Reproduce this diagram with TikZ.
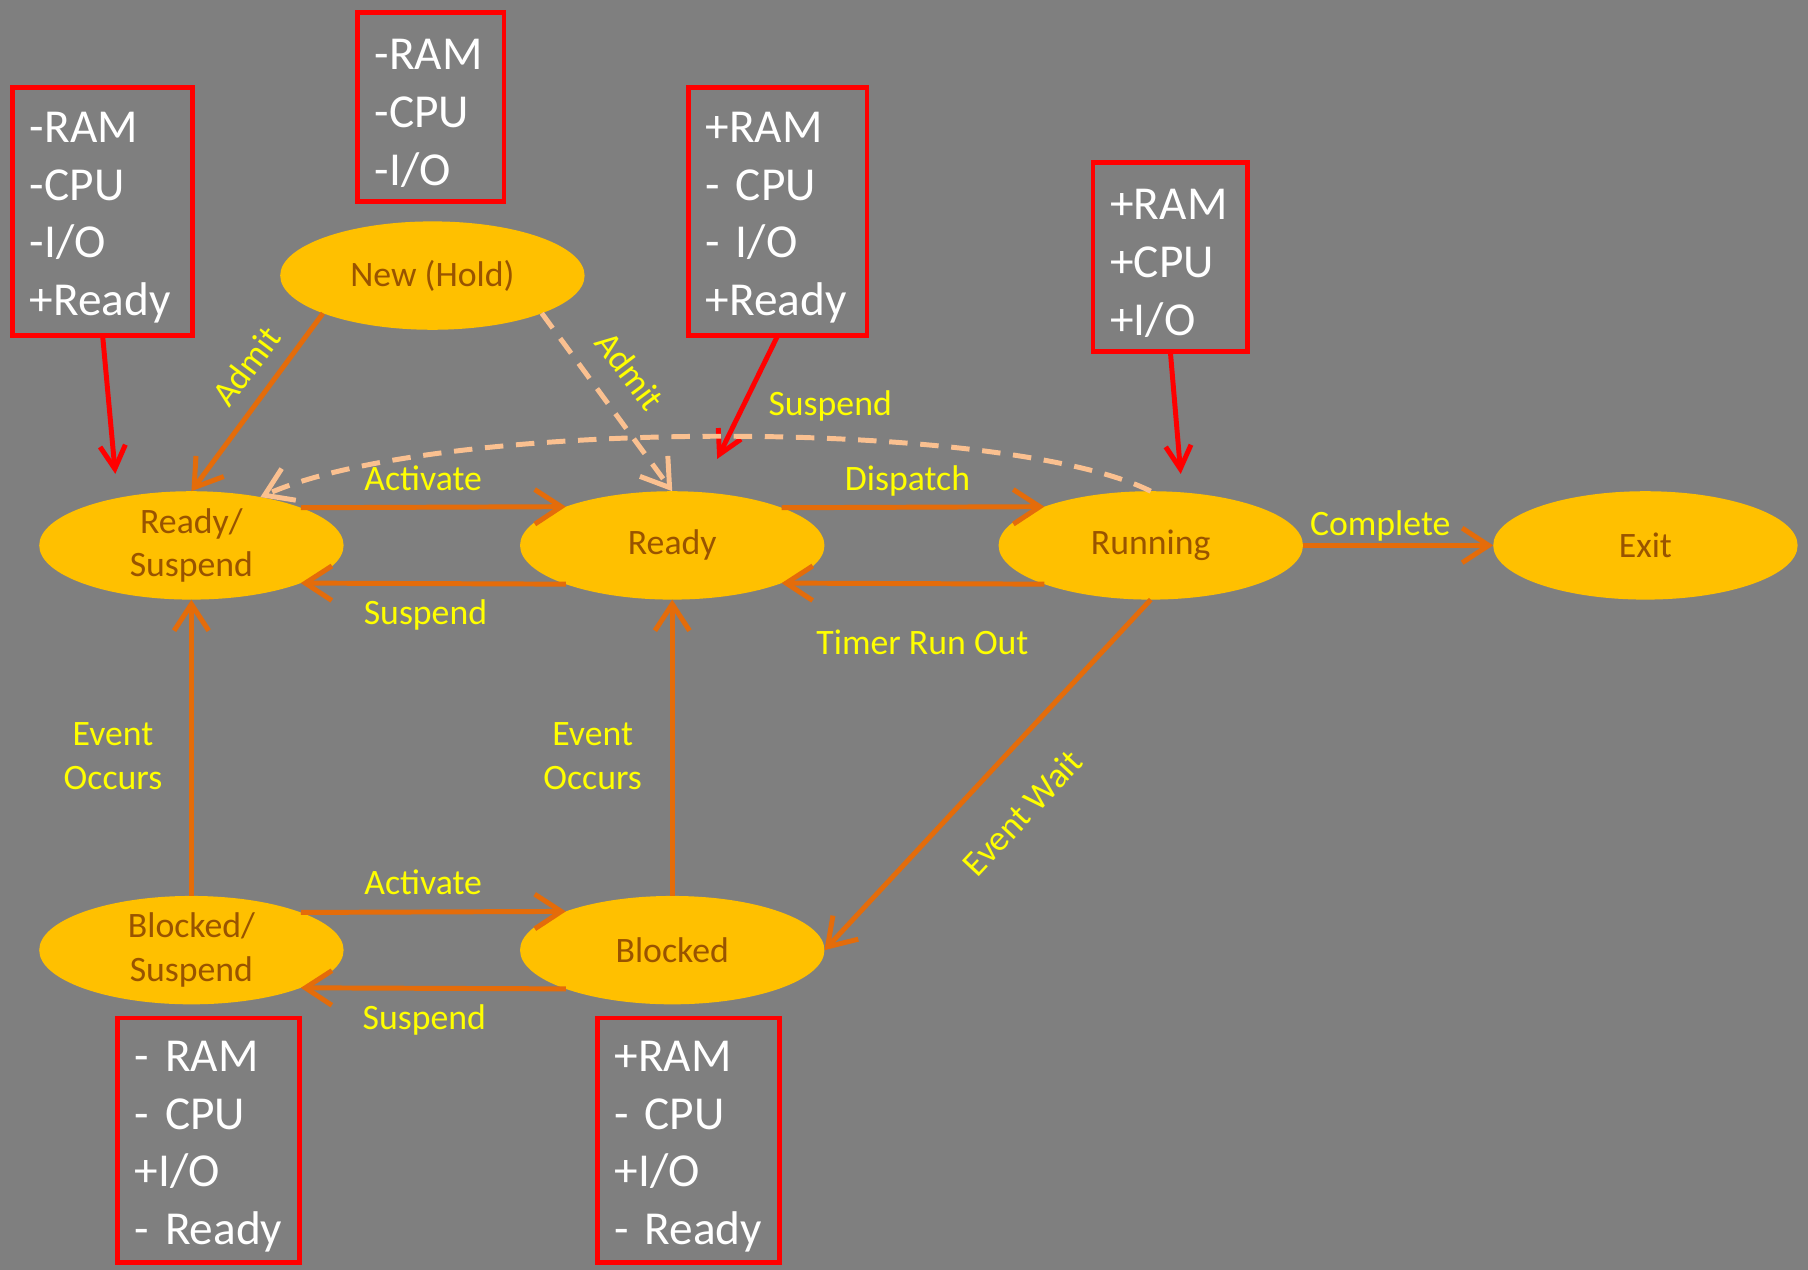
\documentclass[tikz,border=0pt]{standalone}
\usepackage{fontspec}
\setmainfont{Carlito}
\usetikzlibrary{arrows.meta,shapes.geometric}
\definecolor{bgc}{RGB}{127,127,127}
\definecolor{stfill}{RGB}{255,192,0}
\definecolor{sttext}{RGB}{153,84,0}
\definecolor{flowc}{RGB}{228,108,10}
\definecolor{peach}{RGB}{250,192,144}
\definecolor{lblc}{RGB}{255,255,0}
\definecolor{boxred}{RGB}{255,0,0}
\newcommand{\topstrut}{\rule{0pt}{37pt}}
\begin{document}
\begin{tikzpicture}[x=1pt,y=-1pt,
  state/.style={ellipse, fill=stfill, minimum width=264pt, minimum height=94pt,
    inner xsep=0pt, inner ysep=-4pt, outer sep=0pt, text=sttext,
    font=\fontsize{31}{38}\selectfont, align=center},
  infobox/.style={rectangle, draw=boxred, line width=4pt, text=white,
    font=\fontsize{41}{50}\selectfont, align=left, inner xsep=15pt, inner ysep=0pt, outer sep=0pt},
  lab/.style={text=lblc, font=\fontsize{31}{38}\selectfont, align=center, inner sep=0pt},
  lab1/.style={lab, text height=20pt, text depth=0pt},
  flow/.style={draw=flowc, line width=4.3pt, -{Straight Barb[length=23pt,width=30pt]}},
  dflow/.style={draw=peach, line width=4.3pt, dash pattern=on 16pt off 11pt, -{Straight Barb[length=23pt,width=30pt]}},
  ptr/.style={draw=boxred, line width=4.3pt, -{Straight Barb[length=20pt,width=22pt]}}
]
\fill[bgc] (0,0) rectangle (1568,1101);
\useasboundingbox (0,0) rectangle (1568,1101);

% states
\node[state] (new) at (375,239) {New (Hold)};
\node[state] (rs) at (166,473) {Ready/\\Suspend};
\node[state] (ready) at (583,473) {Ready};
\node[state] (run) at (998,473) {Running};
\node[state] (exit) at (1427,473) {Exit};
\node[state] (bs) at (166,824) {Blocked/\\Suspend};
\node[state] (blk) at (583,824) {Blocked};

% info boxes
\node[infobox, minimum width=156pt, minimum height=215pt, text width=126pt] (b1) at (89,183.5) {\topstrut-RAM\\-CPU\\-I/O\\+Ready};
\node[infobox, minimum width=127pt, minimum height=164pt, text width=97pt] (b2) at (373.5,93) {\topstrut-RAM\\-CPU\\-I/O};
\node[infobox, minimum width=155pt, minimum height=215pt, text width=125pt] (b3) at (674.5,183.5) {\topstrut+RAM\\- CPU\\- I/O\\+Ready};
\node[infobox, minimum width=134pt, minimum height=164pt, text width=104pt] (b4) at (1015,223) {\topstrut+RAM\\+CPU\\+I/O};
\node[infobox, minimum width=158pt, minimum height=212pt, text width=128pt] (b5) at (181,989) {\topstrut- RAM\\- CPU\\+I/O\\- Ready};
\node[infobox, minimum width=158pt, minimum height=212pt, text width=128pt] (b6) at (597,989) {\topstrut+RAM\\- CPU\\+I/O\\- Ready};

% pointer ends
\coordinate (p1) at (100,411);
\coordinate (p3) at (622,398);
\coordinate (p4) at (1024,411);
\draw[ptr] (b1.south) -- (p1);
\draw[ptr] (b3.south) -- (p3);
\draw[ptr] (b4.south) -- (p4);

% transitions
\draw[flow] (new.199.34) -- (rs.north);
\draw[dflow] (new.-19.34) -- (ready.north);
\draw[dflow] (run.north) .. controls (870,362) and (380,362) .. (rs.35);
\draw[flow] (rs.19.34) -- (ready.160.66);
\draw[flow] (ready.-160.66) -- (rs.-19.34);
\draw[flow] (ready.19.34) -- (run.160.66);
\draw[flow] (run.-160.66) -- (ready.-19.34);
\draw[flow] (run.east) -- (exit.west);
\draw[flow] (run.south) -- (blk.east);
\draw[flow] (blk.north) -- (ready.south);
\draw[flow] (bs.north) -- (rs.south);
\draw[flow] (bs.19.34) -- (blk.160.66);
\draw[flow] (blk.-160.66) -- (bs.-19.34);

% labels
\node[lab1, rotate=53] (l1) at (214,318) {Admit};
\node[lab1, rotate=-53] (l2) at (546,322) {Admit};
\node[lab1] (l3) at (720,350) {Suspend};
\node[lab1] (l4) at (367,415) {Activate};
\node[lab1] (l5) at (787,415) {Dispatch};
\node[lab1] (l6) at (1197,454) {Complete};
\node[lab1] (l7) at (369,532) {Suspend};
\node[lab1] (l8) at (800,558) {Timer Run Out};
\node[lab] (l9) at (98,656) {Event\\Occurs};
\node[lab] (l10) at (514,656) {Event\\Occurs};
\node[lab1, rotate=47] (l11) at (887,705) {Event Wait};
\node[lab1] (l12) at (367,766) {Activate};
\node[lab1] (l13) at (368,883) {Suspend};
\end{tikzpicture}
\end{document}
